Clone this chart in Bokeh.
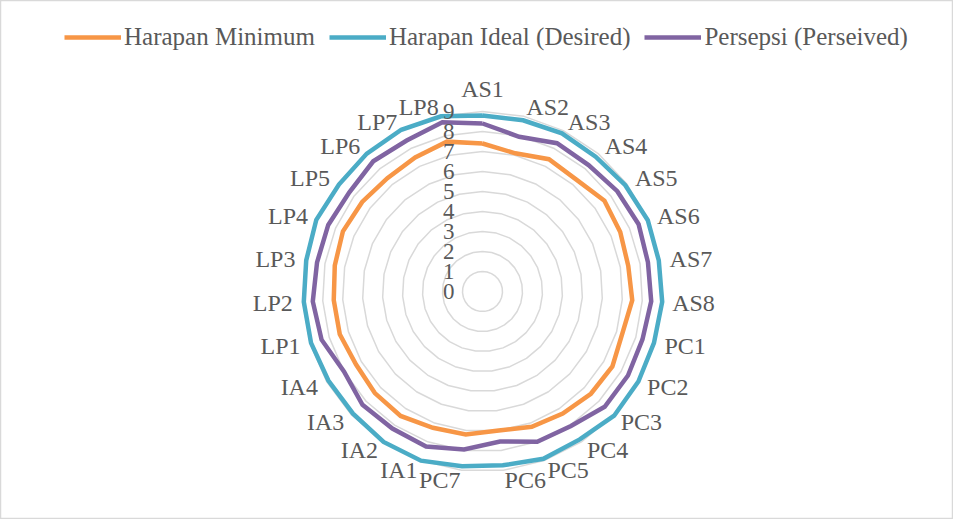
import numpy as np
from bokeh.plotting import figure
from bokeh.models import Range1d, Legend, LegendItem, ColumnDataSource
from bokeh.embed import file_html
from bokeh.resources import INLINE
from bokeh.core.properties import value

# ---- data ----
categories = ["AS1", "AS2", "AS3", "AS4", "AS5", "AS6", "AS7", "AS8",
              "PC1", "PC2", "PC3", "PC4", "PC5", "PC6", "PC7",
              "IA1", "IA2", "IA3", "IA4",
              "LP1", "LP2", "LP3", "LP4", "LP5", "LP6", "LP7", "LP8"]
harapan_minimum = [7.4, 7.1, 7.4, 7.3, 7.6, 7.5, 7.4, 7.5,
                   7.3, 7.5, 7.45, 7.3, 7.2, 7.0, 7.2,
                   7.25, 7.45, 7.4, 7.3,
                   7.45, 7.45, 7.5, 7.6, 7.5, 7.4, 7.5, 7.7]
harapan_ideal = [8.8, 8.8, 8.85, 8.8, 8.9, 9.0, 8.95, 9.0,
                 8.95, 9.0, 9.05, 8.85, 8.9, 8.75, 8.8,
                 9.0, 9.0, 8.9, 8.9,
                 8.95, 8.95, 8.95, 9.05, 8.95, 9.0, 9.05, 9.0]
persepsi = [8.4, 7.95, 8.3, 8.25, 8.4, 8.5, 8.4, 8.45,
            8.35, 8.4, 8.4, 8.05, 8.0, 7.55, 7.95,
            8.25, 8.2, 8.25, 8.0,
            8.4, 8.5, 8.4, 8.4, 8.3, 8.5, 8.45, 8.7]
tick_values = [0, 1, 2, 3, 4, 5, 6, 7, 8, 9]
tick_labels = ["0", "1", "2", "3", "4", "5", "6", "7", "8", "9"]
series_names = ["Harapan Minimum", "Harapan Ideal (Desired)", "Persepsi (Perseived)"]
series_colors = ["#F79646", "#4BACC6", "#8064A2"]

FONT = "Liberation Serif"
TEXT_COLOR = "#595959"
GRID_COLOR = "#D9D9D9"

W, H = 953, 519
PX = 20.0          # pixels per unit
CX, CY = 482, 291  # centre in canvas pixels

n = len(categories)
angles = np.arange(n) * 2 * np.pi / n


def polar(vals):
    v = np.asarray(vals, dtype=float)
    x = v * np.sin(angles)
    y = v * np.cos(angles)
    return np.append(x, x[0]), np.append(y, y[0])


p = figure(width=W, height=H, output_backend="svg", toolbar_location=None,
           x_range=Range1d(-CX / PX, (W - CX) / PX),
           y_range=Range1d(-(H - CY) / PX, CY / PX),
           min_border=0, match_aspect=False)
p.axis.visible = False
p.grid.visible = False
p.outline_line_color = GRID_COLOR
p.outline_line_width = 1.5
p.background_fill_color = "white"
p.border_fill_color = "white"

# circular-ish grid (polygons through category angles)
for v in tick_values[1:]:
    gx, gy = polar([v] * n)
    p.line(gx, gy, line_color=GRID_COLOR, line_width=1.5)

# series
renderers = []
for vals, col in zip([harapan_minimum, harapan_ideal, persepsi], series_colors):
    sx, sy = polar(vals)
    r = p.line(sx, sy, line_color=col, line_width=4.5, line_join="miter")
    renderers.append(r)

# value axis labels
p.text(x=[-1.4] * len(tick_values), y=tick_values, text=tick_labels,
       text_align="right", text_baseline="middle",
       text_font=value(FONT), text_font_size="23px", text_color=TEXT_COLOR)

# category labels
R_LAB = 9.5
lab_x = R_LAB * np.sin(angles)
lab_y = R_LAB * np.cos(angles)
s = np.sin(angles)
groups = {"left": s > 1e-6, "right": s < -1e-6, "center": np.abs(s) <= 1e-6}
for align, mask in groups.items():
    idx = np.where(mask)[0]
    if len(idx) == 0:
        continue
    src = ColumnDataSource(dict(x=lab_x[idx], y=lab_y[idx],
                                text=[categories[i] for i in idx]))
    p.text(x="x", y="y", text="text", source=src, text_align=align,
           text_baseline="bottom" if align == "center" else "middle",
           text_font=value(FONT), text_font_size="24px", text_color=TEXT_COLOR)

legend = Legend(items=[LegendItem(label=nm, renderers=[r]) for nm, r in zip(series_names, renderers)],
                orientation="horizontal", location=(64, 468),
                glyph_width=57, glyph_height=20, label_standoff=3, spacing=14,
                padding=0, border_line_color=None, background_fill_alpha=0,
                label_text_font=FONT, label_text_font_size="25px",
                label_text_color=TEXT_COLOR)
p.add_layout(legend)

open("out.html", "w").write(file_html(p, INLINE))
